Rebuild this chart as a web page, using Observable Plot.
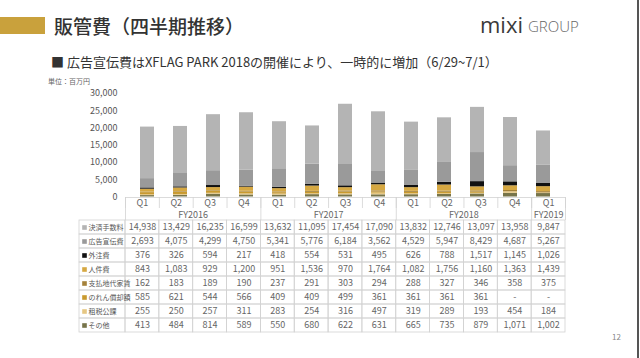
<!DOCTYPE html>
<html><head><meta charset="utf-8">
<script src="https://cdn.jsdelivr.net/npm/d3@7"></script>
<script src="https://cdn.jsdelivr.net/npm/@observablehq/plot@0.6"></script>
<style>
body{margin:0;width:640px;height:358px;position:relative;overflow:hidden;background:#fff;font-family:"Noto Sans CJK JP","Noto Sans",sans-serif;}
.abs{position:absolute;white-space:nowrap;}
svg{overflow:visible;}
</style></head><body>
<div class="abs" style="left:0;top:17px;width:45px;height:17px;background:#c9a13c"></div>
<div class="abs" style="left:54px;top:16px;font-size:19px;line-height:19px;color:#333;font-weight:500">販管費（四半期推移）</div>
<div class="abs" style="left:480px;top:13px;font-size:22px;line-height:22px;color:#3a3a3a;font-family:'Open Sans',sans-serif;font-weight:400">mixi</div>
<div class="abs" style="left:528px;top:19px;font-size:15px;line-height:15px;color:#666;font-family:'Open Sans',sans-serif;font-weight:300">GROUP</div>
<div class="abs" style="left:51px;top:55px;font-size:13px;line-height:14px;color:#333">■ 広告宣伝費はXFLAG PARK 2018の開催により、一時的に増加（6/29~7/1）</div>
<div class="abs" style="left:48px;top:77px;font-size:7px;line-height:8px;color:#666">単位：百万円</div>
<div id="chart" class="abs" style="left:0;top:85px"></div>
<div id="table" class="abs" style="left:0;top:197px"></div>
<div class="abs" style="left:612px;top:332px;font-size:8px;line-height:9px;color:#888">12</div>
<div class="abs" style="left:637px;top:0;width:2px;height:358px;background:#555"></div>
<script>
const quarters = ["Q1","Q2","Q3","Q4","Q1","Q2","Q3","Q4","Q1","Q2","Q3","Q4","Q1"];
const fiscalYears = ["FY2016","FY2016","FY2016","FY2016","FY2017","FY2017","FY2017","FY2017","FY2018","FY2018","FY2018","FY2018","FY2019"];
const seriesNames = ["決済手数料","広告宣伝費","外注費","人件費","支払地代家賃","のれん償却額","租税公課","その他"];
const seriesColors = ["#b4b4b4","#9a9a9a","#111111","#d6a842","#a5823a","#c99a2e","#e6c783","#77744a"];
const payment   = [14938,13429,16235,16599,13632,11095,17454,17090,13832,12746,13097,13958,9847];
const advert    = [2693,4075,4299,4750,5341,5776,6184,3562,4529,5947,8429,4687,5267];
const outsource = [376,326,594,217,418,554,531,495,626,788,1517,1145,1026];
const personnel = [843,1083,929,1200,951,1536,970,1764,1082,1756,1160,1363,1439];
const rent      = [162,183,189,190,237,291,303,294,288,327,346,358,375];
const goodwill  = [585,621,544,566,409,409,499,361,361,361,361,null,null];
const taxes     = [255,250,257,311,283,254,316,497,319,289,193,454,184];
const other     = [413,484,814,589,550,680,622,631,665,735,879,1071,1002];
const yTicks = [0,5000,10000,15000,20000,25000,30000];

const seriesValues = [payment,advert,outsource,personnel,rent,goodwill,taxes,other];
const keys = quarters.map((q,i)=>fiscalYears[i]+" "+q);
const fmt = d3.format(",");
const font = '"Noto Sans CJK JP","Noto Sans",sans-serif';

// long-format rows, bottom of the stack first
const rows = [];
for (let si = seriesNames.length-1; si >= 0; si--) {
  seriesValues[si].forEach((v,i)=>{ if (v != null) rows.push({key:keys[i], series:seriesNames[si], value:v}); });
}

const chart = Plot.plot({
  width:640, height:114, marginLeft:125, marginRight:75, marginTop:8, marginBottom:2.5,
  style:{fontFamily:font, fontSize:"9px", color:"#555", background:"transparent", overflow:"visible"},
  x:{type:"band", domain:keys, paddingInner:0.58, paddingOuter:0.29, axis:null},
  y:{domain:[0,30000], ticks:yTicks, tickFormat:fmt, tickSize:0, tickPadding:8, label:null},
  color:{domain:seriesNames, range:seriesColors},
  marks:[ Plot.barY(rows,{x:"key", y:"value", fill:"series", z:"series"}) ]
});
document.getElementById("chart").appendChild(chart);

// table
const n = keys.length;
const unit = 440/n;
const xmin = -46/unit;
const hTop = -23/14, qBottom = -12/14;
const cells = [];
seriesNames.forEach((s,r)=>{
  cells.push({x1:xmin,x2:0,y1:r,y2:r+1});
  for (let i=0;i<n;i++) cells.push({x1:i,x2:i+1,y1:r,y2:r+1});
});
const valueCells = [];
seriesValues.forEach((arr,r)=>arr.forEach((v,i)=>valueCells.push({i, r, t: v==null ? "-" : fmt(v)})));
const groups = [];
fiscalYears.forEach((fy,i)=>{
  const g = groups[groups.length-1];
  if (g && g.fy===fy) g.end = i+1; else groups.push({fy, start:i, end:i+1});
});
const boundaries = d3.range(0,n+1);
const fyBounds = [...groups.map(g=>g.start), n];

const table = Plot.plot({
  width:640, height:136, marginLeft:79, marginRight:75, marginTop:0, marginBottom:1,
  style:{fontFamily:font, fontSize:"9px", color:"#666", background:"transparent", overflow:"visible"},
  x:{type:"linear", domain:[xmin,n], axis:null},
  y:{type:"linear", domain:[hTop,8], reverse:true, axis:null},
  color:{domain:seriesNames, range:seriesColors},
  marks:[
    Plot.rect(cells,{x1:"x1",x2:"x2",y1:"y1",y2:"y2", fill:"none", stroke:"#d2d2d2", strokeWidth:0.8}),
    Plot.ruleY([hTop],{x1:0,x2:n, stroke:"#d2d2d2", strokeWidth:0.8}),
    Plot.ruleX(boundaries,{y1:hTop, y2:qBottom, stroke:"#d2d2d2", strokeWidth:0.8}),
    Plot.ruleX(fyBounds,{y1:hTop, y2:0, stroke:"#d2d2d2", strokeWidth:0.8}),
    Plot.text(quarters,{x:(d,i)=>i+0.5, y:(hTop+qBottom)/2, text:d=>d, fill:"#666", fontSize:9}),
    Plot.text(groups,{x:g=>(g.start+g.end)/2, y:qBottom/2+0.03, text:"fy", fill:"#666", fontSize:9}),
    Plot.text(valueCells,{x:d=>d.i+0.5, y:d=>d.r+0.5, text:"t", fill:"#666", fontSize:9}),
    Plot.dot(seriesNames,{x:xmin, dx:5, y:(d,i)=>i+0.5, symbol:"square", r:2.6, fill:d=>d, stroke:null}),
    Plot.text(seriesNames,{x:xmin, dx:9, y:(d,i)=>i+0.5, text:d=>d, textAnchor:"start", fill:"#555", fontSize:7})
  ]
});
document.getElementById("table").appendChild(table);
</script>
</body></html>
